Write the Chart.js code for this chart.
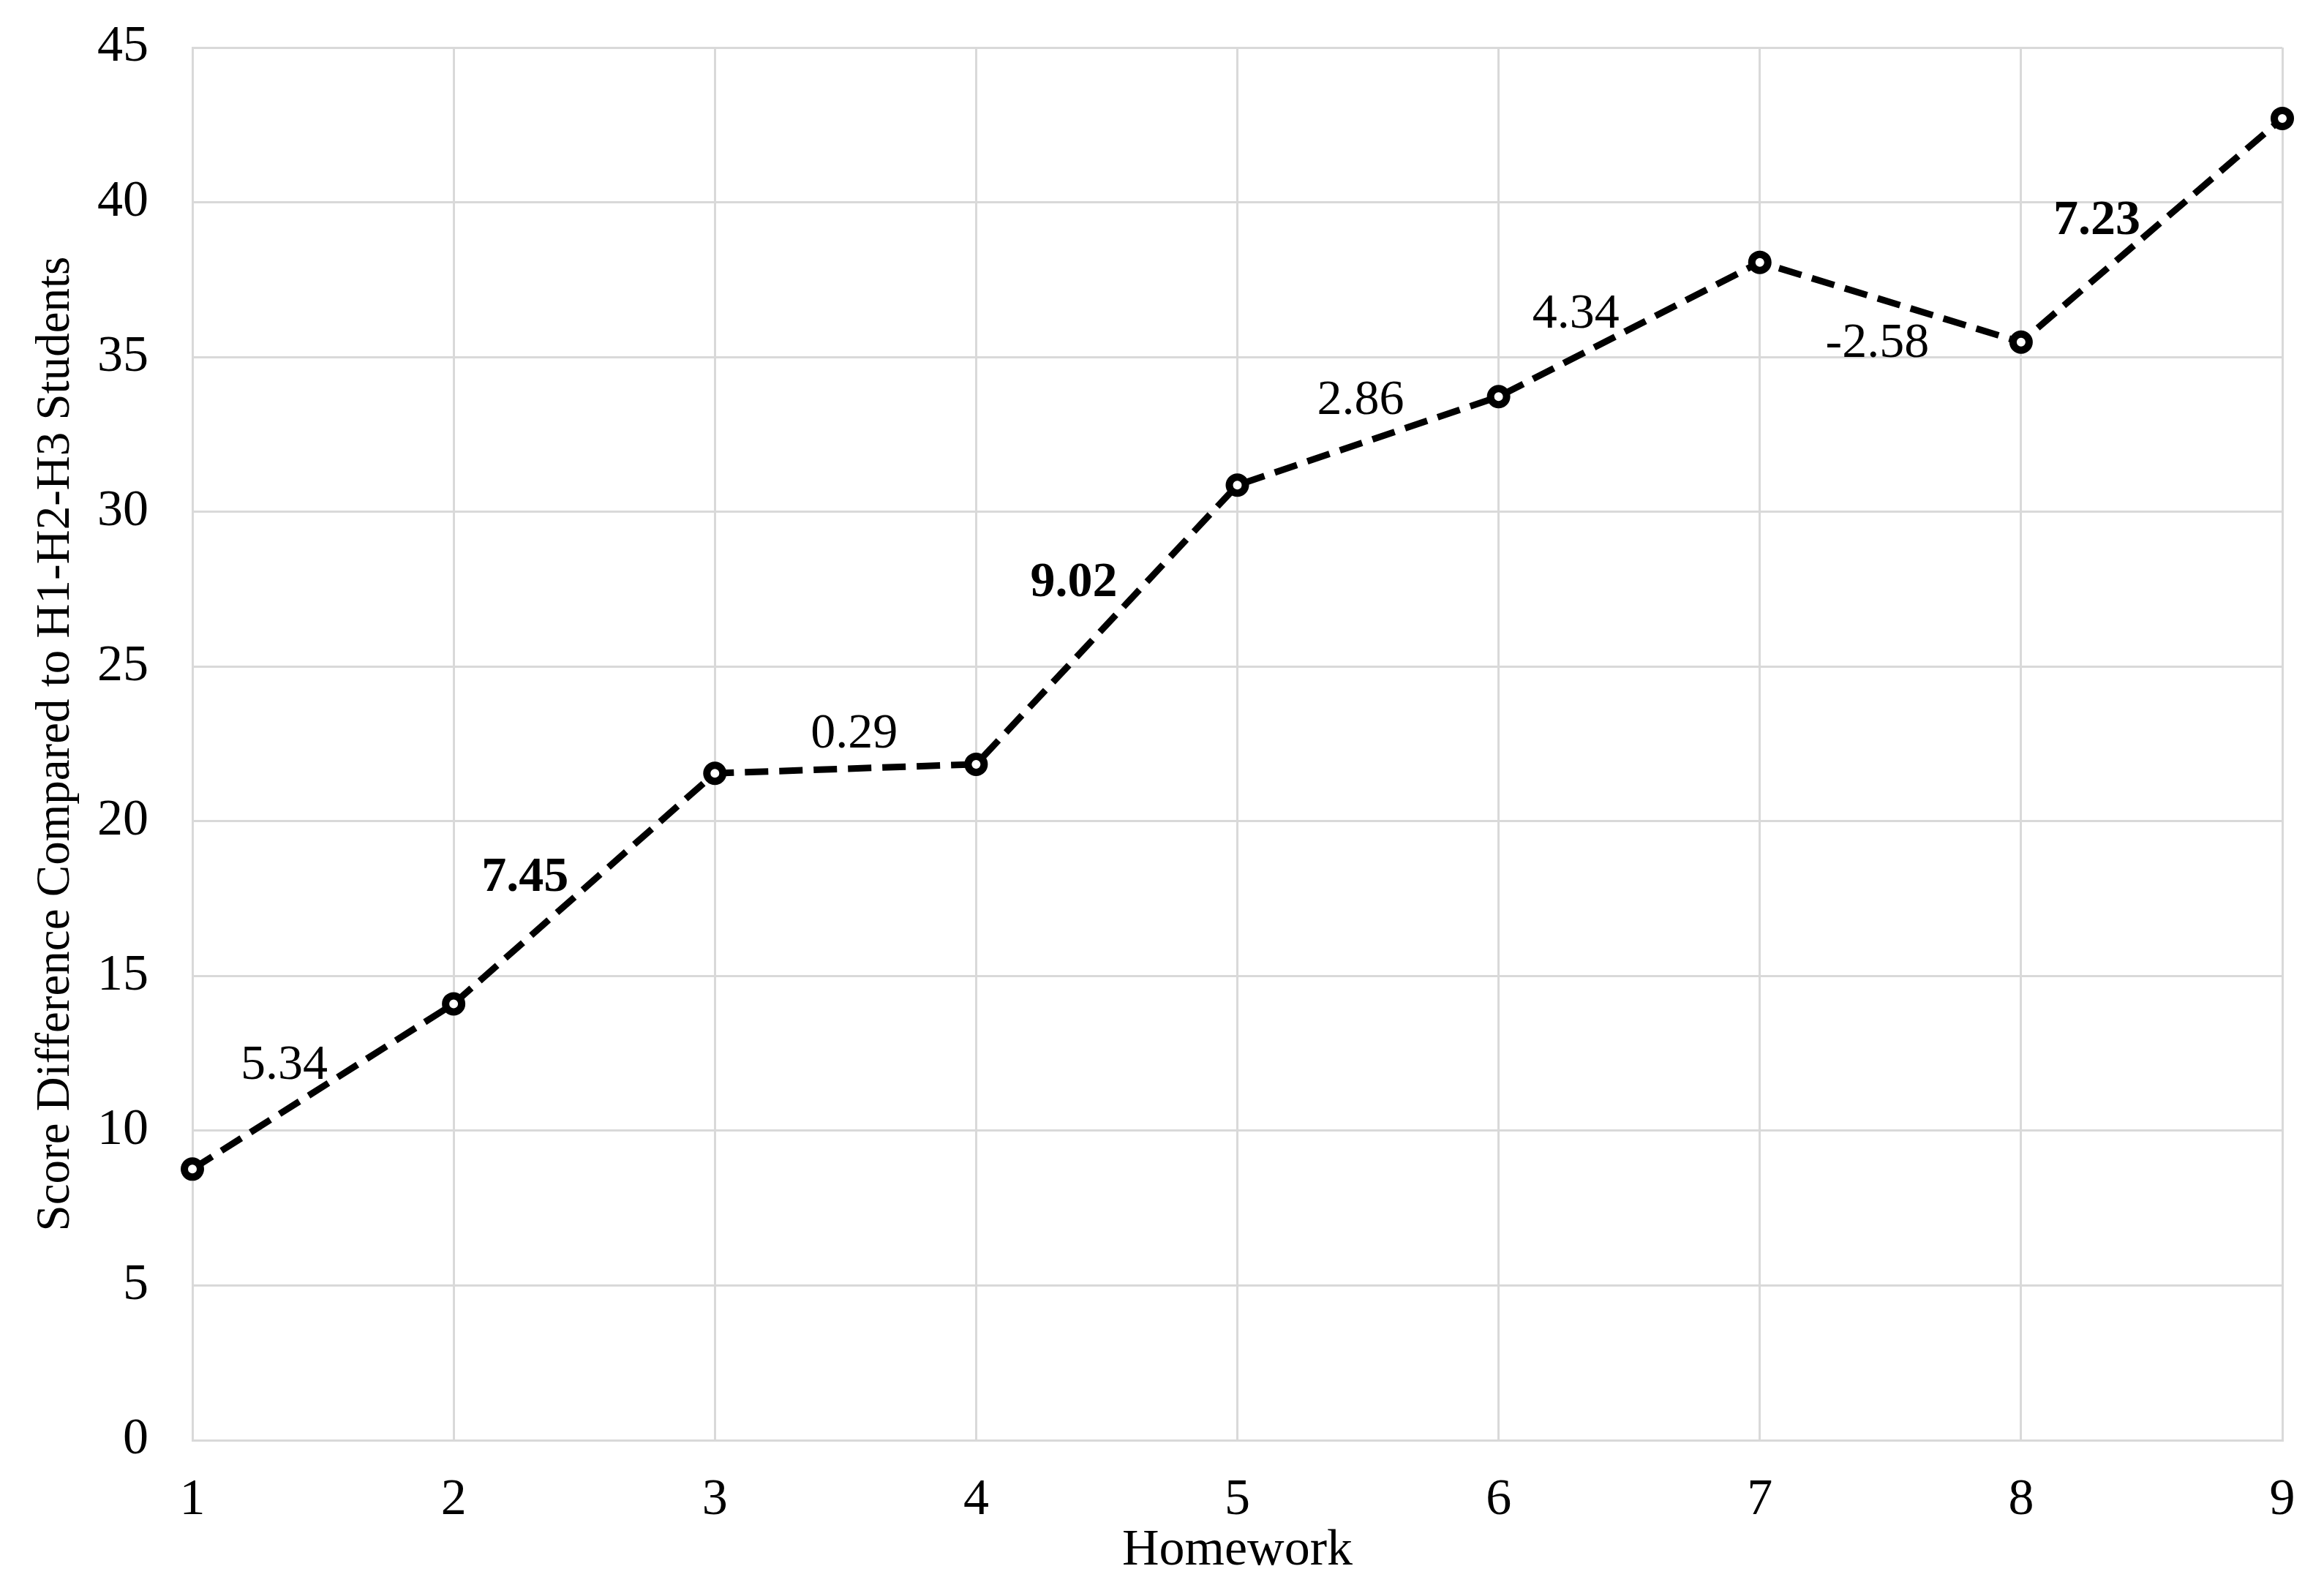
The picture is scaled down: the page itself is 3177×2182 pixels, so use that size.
<!DOCTYPE html>
<html>
<head>
<meta charset="utf-8">
<script src="https://cdn.jsdelivr.net/npm/chart.js@4.4.1/dist/chart.umd.min.js"></script>
<style>
  html, body { margin: 0; padding: 0; background: #fff; }
  #scoreChart { display: block; }
</style>
</head>
<body>
<canvas id="scoreChart" width="3177" height="2182"></canvas>
<script>
// values
const homeworkLabels = ['1', '2', '3', '4', '5', '6', '7', '8', '9'];
const scoreDifferences = [8.76, 14.10, 21.55, 21.84, 30.86, 33.72, 38.06, 35.48, 42.71];
const stepChanges = ['5.34', '7.45', '0.29', '9.02', '2.86', '4.34', '-2.58', '7.23'];
const boldSteps = [false, true, false, true, false, false, false, true];
const yMin = 0;
const yMax = 45;
const yStep = 5;

// where each step label sits relative to the middle of its segment (px)
const stepLabelOffsets = [[-53, -28], [-81, -14], [12, -47], [-45, -57], [-10, -55], [-73, -20], [-18, 57], [-75, -12]];

const FONT = '"Liberation Serif", "Times New Roman", serif';
const GRID = '#d9d9d9';

const stepLabelPlugin = {
    id: 'stepLabels',
    afterDatasetsDraw(chart) {
        const meta = chart.getDatasetMeta(0);
        const ctx = chart.ctx;
        ctx.save();
        ctx.fillStyle = '#000';
        ctx.textAlign = 'center';
        ctx.textBaseline = 'middle';
        stepChanges.forEach((text, i) => {
            const a = meta.data[i];
            const b = meta.data[i + 1];
            const [dx, dy] = stepLabelOffsets[i];
            ctx.font = (boldSteps[i] ? 'bold ' : '') + '68px ' + FONT;
            ctx.fillText(text, (a.x + b.x) / 2 + dx, (a.y + b.y) / 2 + dy);
        });
        ctx.restore();
    }
};

const ctx = document.getElementById('scoreChart');
new Chart(ctx, {
    type: 'line',
    data: {
        labels: homeworkLabels,
        datasets: [{
            label: 'Score Difference',
            data: scoreDifferences,
            borderColor: '#000',
            borderWidth: 9,
            borderDash: [32, 15],
            tension: 0,
            fill: false,
            pointStyle: 'circle',
            pointRadius: 11,
            pointBorderWidth: 10,
            pointBackgroundColor: '#fff',
            pointBorderColor: '#000'
        }]
    },
    options: {
        responsive: false,
        animation: false,
        devicePixelRatio: 1,
        layout: {
            padding: { top: 65, right: 57, left: 0, bottom: 0 }
        },
        plugins: {
            legend: { display: false },
            tooltip: { enabled: false }
        },
        scales: {
            x: {
                offset: false,
                grid: { color: GRID, lineWidth: 3, drawTicks: false },
                border: { color: GRID, width: 3 },
                ticks: {
                    color: '#000',
                    padding: 41,
                    font: { family: FONT, size: 70 }
                },
                title: {
                    display: true,
                    text: 'Homework',
                    color: '#000',
                    padding: { top: 0, bottom: 19 },
                    font: { family: FONT, size: 70 }
                },
                afterFit: (scale) => {
                    scale.height = 213;
                    scale.paddingLeft = 0;
                    scale.paddingRight = 0;
                }
            },
            y: {
                min: yMin,
                max: yMax,
                grid: { color: GRID, lineWidth: 3, drawTicks: false },
                border: { color: GRID, width: 3 },
                ticks: {
                    stepSize: yStep,
                    color: '#000',
                    padding: 60,
                    font: { family: FONT, size: 70 }
                },
                title: {
                    display: true,
                    text: 'Score Difference Compared to H1-H2-H3 Students',
                    color: '#000',
                    padding: { top: 38, bottom: 0 },
                    font: { family: FONT, size: 65 }
                },
                afterFit: (scale) => {
                    scale.width = 263;
                    scale.paddingTop = 0;
                    scale.paddingBottom = 0;
                }
            }
        }
    },
    plugins: [stepLabelPlugin]
});
</script>
</body>
</html>
